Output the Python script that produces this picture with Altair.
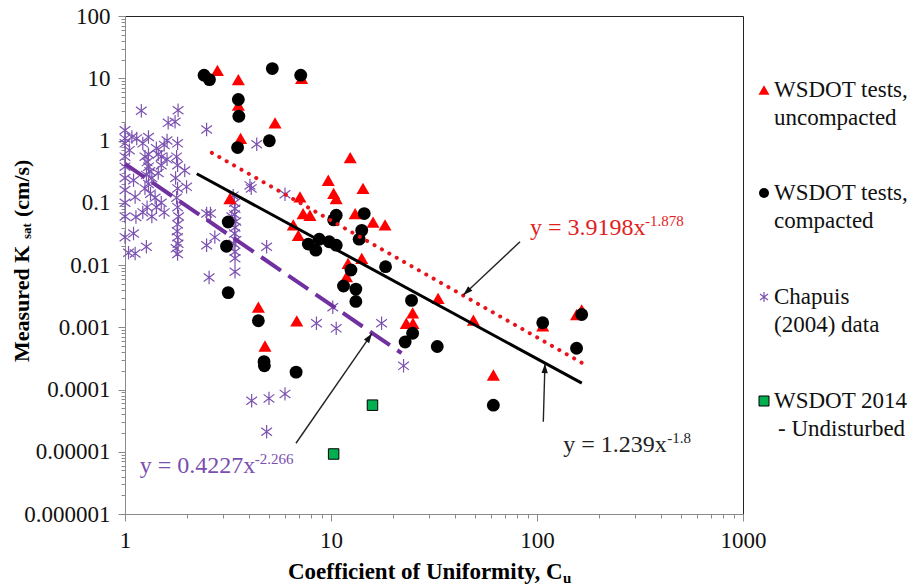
import altair as alt
import pandas as pd
import numpy as np

# ---------------- data ----------------
unc_cu = [2.81, 3.55, 3.55, 5.35, 3.64, 7.2, 12.4, 9.7, 10.3, 10.6, 14.3, 7.07, 3.23,
          7.32, 7.9, 13.1, 16.0, 18.3, 6.56, 6.94, 14.1, 12.1, 11.9,
          4.44, 4.78, 6.82, 23.2, 25.0, 24.9, 33.1, 49.1, 61.4, 106.6, 155.6, 164.8]
unc_k = [13.4, 9.5, 3.7, 1.92, 1.08, 10.0, 0.53, 0.23, 0.141, 0.117, 0.17, 0.124, 0.117,
         0.067, 0.063, 0.067, 0.049, 0.044, 0.044, 0.030, 0.0128, 0.0106, 0.0065,
         0.0021, 0.0005, 0.00127, 0.00116, 0.00116, 0.0017, 0.0029, 0.0013, 0.000171,
         0.00105, 0.0016, 0.0019]

cmp_cu = [2.42, 2.57, 5.19, 7.13, 3.55, 3.57, 5.02, 3.52, 3.17, 3.11, 3.17,
          10.6, 10.3, 14.5, 14.1, 13.7, 7.76, 8.44, 8.77, 9.8, 10.6,
          18.4, 12.5, 11.5, 13.2, 13.2, 24.6, 24.9, 22.9, 32.8, 61.4,
          106.6, 155.6, 164.8, 4.44, 4.73, 4.75, 6.77]
cmp_k = [11.2, 9.5, 14.3, 11.2, 4.55, 2.45, 0.99, 0.77, 0.049, 0.020, 0.0036,
         0.063, 0.053, 0.067, 0.036, 0.026, 0.0217, 0.0173, 0.026, 0.0236, 0.0208,
         0.0094, 0.0083, 0.0046, 0.0041, 0.0026, 0.0027, 0.0008, 0.00058, 0.00049, 0.000056,
         0.00118, 0.00046, 0.0016, 0.00127, 0.00028, 0.00024, 0.00019]

chap_cu = [1.0, 1.0, 1.0, 1.0, 1.0, 1.0, 1.0, 1.0, 1.0, 1.0,
           1.08, 1.14, 1.1, 1.12, 1.13, 1.1, 1.12, 1.04, 1.05,
           1.2, 1.3, 1.22, 1.25, 1.28, 1.3, 1.32, 1.27, 1.35, 1.3, 1.25, 1.33, 1.28, 1.27, 1.22, 1.35, 1.3,
           1.42, 1.45, 1.5, 1.55, 1.6, 1.62, 1.5, 1.45, 1.4, 1.5, 1.42, 1.55, 1.6,
           1.81, 1.8, 1.78, 1.8, 1.76, 1.8, 1.78, 1.8, 1.82, 1.8, 1.79, 1.8, 1.81, 1.77, 1.8, 1.75,
           1.99, 1.95, 2.49, 2.49, 2.56, 2.49, 2.6, 2.73,
           3.35, 3.4, 3.42, 3.4, 3.45, 3.42, 3.4, 3.45, 3.42, 3.42, 3.42, 3.3, 3.38,
           4.04, 4.1, 4.36, 5.98, 4.87, 8.5, 10.6, 10.2, 17.6, 22.5, 4.12, 5.0, 5.98, 4.87]
chap_k = [1.46, 1.08, 0.9, 0.55, 0.38, 0.25, 0.16, 0.1, 0.06, 0.028,
          1.14, 1.08, 0.23, 0.124, 0.059, 0.032, 0.0153, 0.0157, 0.7,
          3.0, 1.14, 0.9, 0.55, 0.45, 0.38, 0.32, 0.28, 0.25, 0.2, 0.17, 0.14, 0.085, 0.0196, 0.07, 0.06, 0.6,
          0.75, 0.6, 0.55, 0.85, 0.5, 1.92, 0.4, 0.3, 0.12, 0.1, 0.085, 0.07, 1.0,
          3.07, 0.9, 0.55, 0.4, 0.25, 0.17, 0.12, 0.085, 0.06, 0.045, 0.035, 0.028, 0.022, 0.0185, 0.015, 2.0,
          0.18, 0.33, 1.5, 0.067, 0.0063, 0.0208, 0.067, 0.028,
          0.13, 0.1, 0.08, 0.065, 0.05, 0.04, 0.032, 0.025, 0.0163, 0.0128, 0.0078, 0.06, 0.022,
          0.19, 0.17, 0.87, 0.137, 0.0196, 0.00116, 0.00096, 0.0021, 0.00116, 0.00024,
          6.6e-5, 7.2e-5, 8.5e-5, 2.1e-5]

und_cu = [10.3, 15.9]
und_k = [9.2e-6, 5.6e-5]

# power-law fits shown on the chart: coefficient, exponent, Cu range
fit_names = ["red", "black", "purple"]
fit_a = [3.9198, 1.239, 0.4227]
fit_b = [-1.878, -1.8, -2.266]
fit_x0 = [2.64, 2.23, 1.0]
fit_x1 = [165.0, 165.0, 22.0]

eq_main = ["y = 3.9198x", "y = 1.239x", "y = 0.4227x"]
eq_sup = ["-1.878", "-1.8", "-2.266"]
eq_cu = [92.5, 134.2, 1.18]
eq_k = [0.0302, 1.0e-5, 4.5e-6]
eq_dx = [115, 104, 115]
eq_col = ["#E3211C", "#222222", "#7A4FB0"]

# arrows: start (text) -> tip (on line)
arr_x1 = [82.7, 107.3, 6.76]
arr_y1 = [0.0236, 3.04e-5, 1.37e-5]
arr_x2 = [43.9, 109.3, 15.8]
arr_y2 = [0.0033, 2.6e-4, 7.9e-4]

legend_lines = [["WSDOT tests,", "uncompacted"], ["WSDOT tests,", "compacted"],
                ["Chapuis", "(2004) data"], ["WSDOT 2014", "- Undisturbed"]]

# ---------------- layout ----------------
W, H = 618, 498
PL, PT = 125, 16
X0, X1 = 1, 1000
Y0, Y1 = 1e-6, 100
SERIF = "Liberation Serif"
RED = "#FF0000"
PURPLE = "#7B52B0"
GREEN = "#00B050"

xs = alt.Scale(type="log", domain=[X0, X1], nice=False)
ys = alt.Scale(type="log", domain=[Y0, Y1], nice=False)

major = "abs(log(datum.value)/LN10 - round(log(datum.value)/LN10)) < 0.001"
x_ticks = [round(m * 10 ** d, 6) for d in range(0, 3) for m in range(1, 10)] + [1000]
y_ticks = [float(f"{m}e{d}") for d in range(-6, 2) for m in range(1, 10)] + [100.0]

x_axis = alt.Axis(values=x_ticks, labelExpr=f"{major} ? format(datum.value, 'd') : ''",
                  tickSize={"condition": {"test": major, "value": 7}, "value": 4},
                  grid=False, title=None, domainColor="#8a8a8a", tickColor="#8a8a8a",
                  labelFont=SERIF, labelFontSize=23, labelColor="#111111", labelPadding=8,
                  labelOverlap=False, labelFlush=False)
y_axis = alt.Axis(values=y_ticks,
                  labelExpr=f"{major} ? (datum.value >= 1 ? format(datum.value, 'd') : format(datum.value, '.6~f')) : ''",
                  tickSize={"condition": {"test": major, "value": 7}, "value": 4},
                  grid=False, title=None, domainColor="#8a8a8a", tickColor="#8a8a8a",
                  labelFont=SERIF, labelFontSize=23, labelColor="#111111", labelPadding=8,
                  labelOverlap=False)

X = lambda f: alt.X(f, type="quantitative", scale=xs, axis=x_axis)
Y = lambda f: alt.Y(f, type="quantitative", scale=ys, axis=y_axis)

unc = pd.DataFrame({"cu": unc_cu, "k": unc_k})
cmp_ = pd.DataFrame({"cu": cmp_cu, "k": cmp_k})
chap = pd.DataFrame({"cu": chap_cu, "k": chap_k})
und = pd.DataFrame({"cu": und_cu, "k": und_k})

ASTER = "M0,-1L0,1M-0.8,-0.6L0.8,0.6M-0.8,0.6L0.8,-0.6"
ARROW = "M0,0L0.6,1.8L-0.6,1.8Z"

base_axes = alt.Chart(pd.DataFrame({"cu": [X0], "k": [Y0]})).mark_point(opacity=0).encode(
    x=X("cu"), y=Y("k"))

chap_l = alt.Chart(chap).mark_point(shape=ASTER, filled=False, size=180, stroke=PURPLE,
                                    strokeWidth=1.2, opacity=1).encode(x=X("cu"), y=Y("k"))
unc_l = alt.Chart(unc).mark_point(shape="triangle-up", filled=True, size=170, color=RED,
                                  opacity=1).encode(x=X("cu"), y=Y("k"))
cmp_l = alt.Chart(cmp_).mark_circle(size=165, color="#000000", opacity=1).encode(
    x=X("cu"), y=Y("k"))
und_l = alt.Chart(und).mark_square(size=110, color=GREEN, stroke="#000000", strokeWidth=1,
                                   opacity=1).encode(x=X("cu"), y=Y("k"))

# trend lines
rows = []
for n, a, b, x0, x1 in zip(fit_names, fit_a, fit_b, fit_x0, fit_x1):
    for xv in (x0, x1):
        rows.append({"fit": n, "cu": xv, "k": a * xv ** b})
fits = pd.DataFrame(rows)
red_line = alt.Chart(fits[fits.fit == "red"]).mark_line(
    color="#E8141B", strokeWidth=4, strokeDash=[0.1, 8.4], strokeCap="round").encode(
    x=X("cu"), y=Y("k"))
blk_line = alt.Chart(fits[fits.fit == "black"]).mark_line(
    color="#000000", strokeWidth=3).encode(x=X("cu"), y=Y("k"))
pur_line = alt.Chart(fits[fits.fit == "purple"]).mark_line(
    color="#7030A0", strokeWidth=4, strokeDash=[24, 9]).encode(x=X("cu"), y=Y("k"))

# arrows
dpx = W / np.log10(X1 / X0)
dpy = H / np.log10(Y1 / Y0)
ang = []
for a1, b1, a2, b2 in zip(arr_x1, arr_y1, arr_x2, arr_y2):
    dx = (np.log10(a2) - np.log10(a1)) * dpx
    dy = -(np.log10(b2) - np.log10(b1)) * dpy
    ang.append(float(np.degrees(np.arctan2(dx, -dy)) % 360))
arr = pd.DataFrame({"x1": arr_x1, "y1": arr_y1, "x2": arr_x2, "y2": arr_y2, "ang": ang})
arr_rule = alt.Chart(arr).mark_rule(color="#222222", strokeWidth=1.4).encode(
    x=X("x1"), y=Y("y1"), x2="x2", y2="y2")
arr_head = alt.Chart(arr).mark_point(shape=ARROW, filled=True, size=110, color="#111111",
                                     opacity=1).encode(
    x=X("x2"), y=Y("y2"), angle=alt.Angle("ang:Q", scale=None))

# equation texts
eq_layers = []
for m, s, cx, ky, ddx, col in zip(eq_main, eq_sup, eq_cu, eq_k, eq_dx, eq_col):
    d = pd.DataFrame({"cu": [cx], "k": [ky], "t": [m], "s": [s]})
    eq_layers.append(alt.Chart(d).mark_text(align="left", baseline="alphabetic", font=SERIF,
                                            fontSize=24, color=col).encode(
        x=X("cu"), y=Y("k"), text="t:N"))
    eq_layers.append(alt.Chart(d).mark_text(align="left", baseline="alphabetic", font=SERIF,
                                            fontSize=15, color=col, dx=ddx, dy=-9).encode(
        x=X("cu"), y=Y("k"), text="s:N"))

# axis titles (with subscripts)
TFS = 22
yt_start = H / 2 + 97
ytitle = [
    alt.Chart(pd.DataFrame({"t": ["Measured  K"]})).mark_text(
        angle=270, align="left", baseline="middle", font=SERIF, fontSize=TFS, fontWeight="bold",
        color="#000000").encode(x=alt.value(-103), y=alt.value(yt_start), text="t:N"),
    alt.Chart(pd.DataFrame({"t": ["sat"]})).mark_text(
        angle=270, align="left", baseline="middle", font=SERIF, fontSize=13, fontWeight="bold",
        color="#000000").encode(x=alt.value(-98), y=alt.value(yt_start - 123), text="t:N"),
    alt.Chart(pd.DataFrame({"t": ["(cm/s)"]})).mark_text(
        angle=270, align="left", baseline="middle", font=SERIF, fontSize=TFS, fontWeight="bold",
        color="#000000").encode(x=alt.value(-103), y=alt.value(yt_start - 145), text="t:N"),
]
xt_start = W / 2 - 146
xtitle = [
    alt.Chart(pd.DataFrame({"t": ["Coefficient of Uniformity,  C"]})).mark_text(
        align="left", baseline="middle", font=SERIF, fontSize=23, fontWeight="bold",
        color="#000000").encode(x=alt.value(xt_start), y=alt.value(H + 58), text="t:N"),
    alt.Chart(pd.DataFrame({"t": ["u"]})).mark_text(
        align="left", baseline="middle", font=SERIF, fontSize=15, fontWeight="bold",
        color="#000000").encode(x=alt.value(xt_start + 275), y=alt.value(H + 64), text="t:N"),
]

# legend (outside the plot, on the right)
LX = 639
LY = [74, 177, 281, 385]
LSP = 28
leg = []
leg.append(alt.Chart(pd.DataFrame({"a": [0]})).mark_point(
    shape="triangle-up", filled=True, size=120, color=RED, opacity=1).encode(
    x=alt.value(LX), y=alt.value(LY[0])))
leg.append(alt.Chart(pd.DataFrame({"a": [0]})).mark_circle(
    size=100, color="#000000", opacity=1).encode(x=alt.value(LX), y=alt.value(LY[1])))
leg.append(alt.Chart(pd.DataFrame({"a": [0]})).mark_point(
    shape=ASTER, filled=False, size=100, stroke=PURPLE, strokeWidth=1.2, opacity=1).encode(
    x=alt.value(LX), y=alt.value(LY[2])))
leg.append(alt.Chart(pd.DataFrame({"a": [0]})).mark_square(
    size=100, color=GREEN, stroke="#000000", strokeWidth=1, opacity=1).encode(
    x=alt.value(LX), y=alt.value(LY[3])))
for lines, ly in zip(legend_lines, LY):
    for i, line in enumerate(lines):
        leg.append(alt.Chart(pd.DataFrame({"t": [line]})).mark_text(
            align="left", baseline="middle", font=SERIF, fontSize=23, color="#111111").encode(
            x=alt.value(LX + 10 + (4 if line.startswith("-") else 0)),
            y=alt.value(ly + i * LSP), text="t:N"))

chart = alt.layer(
    base_axes, chap_l, unc_l, cmp_l, und_l, pur_line, red_line, blk_line,
    arr_rule, arr_head, *eq_layers, *ytitle, *xtitle, *leg
).properties(
    width=W, height=H,
    autosize=alt.AutoSizeParams(type="none"),
    padding={"left": PL, "top": PT, "right": 920 - PL - W, "bottom": 588 - PT - H},
    background="#ffffff",
).configure_view(stroke="#222222", strokeWidth=1)

chart.save("out.html", embed_options={"renderer": "svg", "actions": False})
